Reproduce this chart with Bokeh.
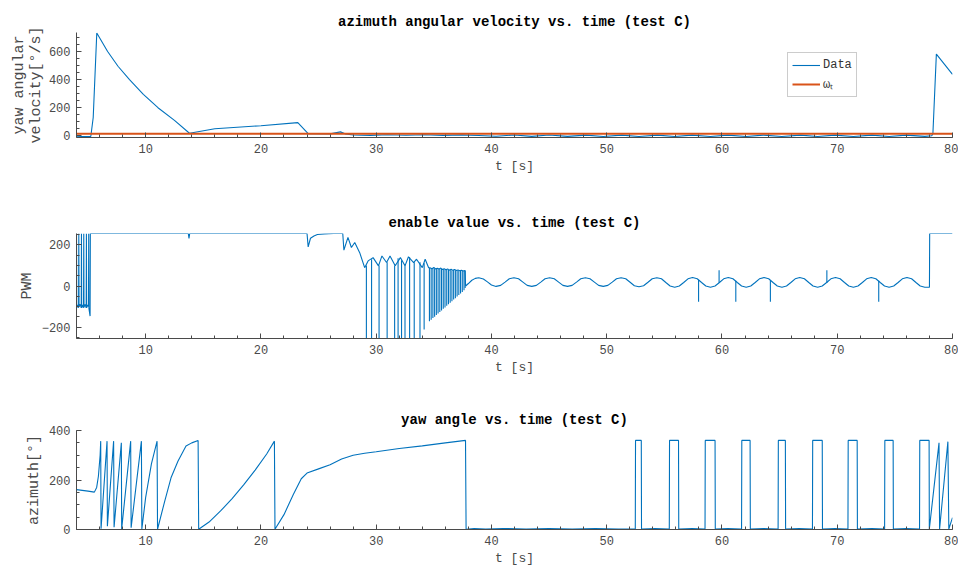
from bokeh.plotting import figure
from bokeh.layouts import column
from bokeh.models import Range1d, SingleIntervalTicker, Legend, LegendItem
from bokeh.embed import file_html
from bokeh.resources import INLINE

# ---------------- data ----------------
# azimuth angular velocity (deg/s)
om_t = [4.0, 4.5, 5.0, 5.24, 5.45, 5.76, 6.7, 7.6, 8.6, 9.8,
        11.07, 12.5, 13.8, 16.0, 20.0, 23.2, 24.1, 26.0, 26.9, 27.3,
        28.0, 29.5, 31.0, 32.6, 34.2, 35.8, 37.4, 38.9, 40.4, 42.0,
        43.5, 45.0, 46.6, 48.2, 49.7, 51.3, 52.8, 54.4, 55.9, 57.4,
        59.0, 60.5, 62.1, 63.6, 65.2, 66.8, 68.3, 69.8, 71.4, 73.0,
        74.5, 76.0, 77.6, 78.2, 78.3, 78.6, 80.0]
om_v = [-3, -5, -6, -5, 130, 731, 600, 495, 400, 295,
        200, 110, 18, 50, 72, 94, 15, 14, 28, 14,
        6, 3, 8, 4, 8, 3, 7, 2, -3, 6,
        -4, 6, -4, 5, -5, 5, -5, 5, -5, 5,
        -5, 5, -5, 5, -5, 5, -5, 5, -5, 5,
        -5, 5, -4, 0, 15, 581, 437]
omega_t_value = 15
omega_t_span = [4.0, 80.0]

# PWM enable value: start-up chatter and saturation
pwm_a_t = [4.0, 4.02, 4.1, 4.18, 4.2, 4.22, 4.32, 4.41, 4.43, 4.45, 4.53, 4.61,
           4.63, 4.65, 4.75, 4.84, 4.86, 4.88, 4.96, 5.04, 5.06, 5.08, 5.18, 5.2,
           13.7, 13.76, 13.82,
           24.0, 24.1, 24.3, 24.6, 24.9, 25.5, 26.3, 27.1,
           27.2, 27.55, 27.85, 28.14, 28.57, 29.0, 29.3, 29.73, 30.2, 30.5, 30.9,
           31.2, 31.65, 32.1, 32.5, 32.8, 33.25, 33.5, 34.0, 34.25, 34.55]
pwm_a_v = [255, -106, -92, -106, 255, -100, -89, -106, 255, -106, -92, -106,
           255, -104, -89, -106, 255, -106, -92, -100, 255, -110, -146, 255,
           255, 231, 255,
           255, 190, 232, 243, 250, 253, 255, 255,
           174, 236, 187, 211, 162, 89, 122, 138, 98, 146, 114,
           146, 98, 138, 98, 142, 114, 130, 89, 130, 89]
# dense chatter envelope
pwm_b_t = [34.7, 34.85, 35.0, 35.15, 35.3, 35.45, 35.6, 35.75, 35.9, 36.05, 36.2,
           36.35, 36.5, 36.65, 36.8, 36.95, 37.1, 37.25, 37.4, 37.55, 37.7]
pwm_b_v = [88, 84, 90, 83, 86, 82, 87, 80, 84, 79, 83,
           77, 81, 76, 80, 75, 78, 74, 77, 73, 75]
# oscillation phase
pwm_c_t = [37.76, 38.0, 38.3, 38.6, 38.9, 39.3, 39.65, 40.0, 40.4,
           40.8, 41.18, 41.55, 41.95, 42.35, 42.73, 43.1, 43.5,
           43.9, 44.28, 44.65, 45.05, 45.45, 45.83, 46.2, 46.6,
           47.0, 47.38, 47.75, 48.15, 48.55, 48.93, 49.3, 49.7,
           50.1, 50.48, 50.85, 51.25, 51.65, 52.03, 52.4, 52.8,
           53.2, 53.58, 53.95, 54.35, 54.75, 55.13, 55.5, 55.9,
           56.3, 56.68, 57.05, 57.45, 57.85, 58.23, 58.6, 59.0,
           59.4, 59.78, 60.15, 60.55, 60.95, 61.33, 61.7, 62.1,
           62.5, 62.88, 63.25, 63.65, 64.05, 64.43, 64.8, 65.2,
           65.6, 65.98, 66.35, 66.75, 67.15, 67.53, 67.9, 68.3,
           68.7, 69.08, 69.45, 69.85, 70.25, 70.63, 71.0, 71.4,
           71.8, 72.18, 72.55, 72.95, 73.35, 73.73, 74.1, 74.5,
           74.9, 75.28, 75.65, 76.05, 76.45, 76.83, 77.2, 77.6,
           78.0, 78.02, 80.0]
pwm_c_v = [0, 12, 28, 37, 40, 34, 20, 5, -2,
           3, 19, 35, 40, 35, 19, 3, -2,
           3, 19, 35, 40, 35, 19, 3, -2,
           3, 19, 35, 40, 35, 19, 3, -2,
           3, 19, 35, 40, 35, 18, 1, -4,
           1, 18, 35, 40, 35, 17, 0, -6,
           0, 17, 35, 41, 35, 17, 0, -6,
           0, 17, 35, 41, 35, 17, 0, -6,
           0, 17, 35, 41, 35, 17, 0, -6,
           0, 17, 35, 41, 35, 17, 0, -6,
           0, 17, 35, 41, 35, 17, 0, -6,
           0, 17, 35, 41, 35, 17, 0, -6,
           0, 17, 35, 41, 35, 17, 0, -6,
           -6, 255, 255]
# switching spikes
spike_t = [29.15, 29.6, 30.25, 30.95, 31.6, 31.9, 32.2, 32.5, 32.9, 33.3, 33.8, 34.16,
           34.62, 34.77, 34.92, 35.07, 35.22, 35.37, 35.52, 35.67, 35.82, 35.97, 36.12,
           36.27, 36.42, 36.57, 36.72, 36.87, 37.02, 37.17, 37.32, 37.47, 37.62, 37.72,
           57.97, 59.75, 61.2, 64.2, 69.1, 73.6]
spike_top = [100, 130, 100, 115, 100, 135, 125, 100, 140, 115, 115, 110,
             88, 86, 88, 85, 85, 84, 85, 82, 82, 80, 80,
             78, 79, 77, 78, 76, 77, 75, 75, 74, 74, 75,
             30, 16, 25, 28, 15, 25]
spike_bot = [-255, -255, -255, -255, -255, -255, -255, -255, -255, -255, -255, -211,
             -171, -164, -156, -149, -141, -134, -126, -119, -111, -104, -96,
             -89, -81, -74, -66, -59, -51, -44, -36, -29, -21, -10,
             -76, 76, -76, -76, 76, -76]

# yaw angle (deg)
az_t = [4.0, 5.0, 5.55, 5.75, 5.9, 6.05, 6.1, 6.13,
        6.65, 6.68, 7.22, 7.26, 7.89, 7.92, 8.70, 8.74, 9.63, 9.67, 10.0, 10.5, 10.99, 11.03,
        11.65, 12.2, 12.8, 13.5, 14.0, 14.55, 14.6,
        15.5, 16.5, 17.5, 18.5, 19.5, 20.5, 21.17, 21.22,
        22.0, 22.8, 23.5, 24.0, 25.0, 26.0, 27.0, 28.0, 29.0, 30.0, 32.0, 34.0, 36.0, 37.75, 37.8,
        38.5, 39.5, 41.0, 43.0, 45.0, 47.0, 49.0, 51.0,
        52.48, 52.5, 53.0, 53.02, 54.2,
        55.43, 55.45, 56.23, 56.25, 57.4,
        58.53, 58.55, 59.4, 59.42, 60.5,
        61.70, 61.72, 62.44, 62.46, 63.6,
        64.87, 64.89, 65.5, 65.52, 66.7,
        67.85, 67.87, 68.7, 68.72, 69.8,
        70.93, 70.95, 71.73, 71.75, 73.0,
        74.11, 74.13, 74.85, 74.87, 76.0,
        77.14, 77.16, 77.97, 77.99, 78.83, 78.88, 79.6, 79.68, 80.0]
az_v = [161, 155, 151, 170, 215, 300, 357, 3,
        357, 13, 357, 9, 350, 2, 357, 7, 357, 2, 130, 265, 357, 1,
        114, 209, 276, 337, 350, 360, 1,
        30, 75, 125, 180, 240, 305, 357, 1,
        60, 140, 205, 228, 245, 262, 285, 300, 308, 314, 327, 338, 350, 360, 1,
        4, 2, 4, 2, 4, 2, 4, 2,
        2, 360, 360, 2, 4,
        2, 360, 360, 2, 4,
        2, 360, 360, 2, 4,
        2, 360, 360, 2, 4,
        2, 360, 360, 2, 4,
        2, 360, 360, 2, 4,
        2, 360, 360, 2, 4,
        2, 360, 360, 2, 4,
        2, 360, 360, 2, 350, 2, 355, 2, 48]

# ---------------- style ----------------
MONO = "Liberation Mono"
BLUE = "#0072BD"
RED = "#D95319"
AX = "#4a4a4a"


def make_fig(title, h, top, bottom, y0, y1, yint, ylabel, ylsize="15px"):
    p = figure(width=958, height=h, output_backend="svg", toolbar_location=None,
               x_range=Range1d(4, 80), y_range=Range1d(y0, y1),
               min_border_left=76, min_border_right=6,
               min_border_top=top, min_border_bottom=bottom)
    p.title.text = title
    p.title.align = "center"
    p.title.text_font = MONO
    p.title.text_font_size = "14px"
    p.title.text_font_style = "bold"
    p.title.text_color = "black"
    p.title.standoff = 5
    p.outline_line_color = None
    p.grid.visible = False
    p.xaxis.ticker = SingleIntervalTicker(interval=10, num_minor_ticks=5)
    p.yaxis.ticker = SingleIntervalTicker(interval=yint, num_minor_ticks=4)
    for ax in p.axis:
        ax.axis_line_color = AX
        ax.major_tick_line_color = AX
        ax.minor_tick_line_color = AX
        ax.major_tick_in = 5
        ax.major_tick_out = 0
        ax.minor_tick_in = 3
        ax.minor_tick_out = 0
        ax.major_label_text_font = MONO
        ax.major_label_text_font_size = "12px"
        ax.major_label_text_color = AX
        ax.major_label_standoff = 6
        ax.axis_label_text_font = MONO
        ax.axis_label_text_font_style = "normal"
        ax.axis_label_text_color = AX
        ax.axis_label_standoff = 3
    p.xaxis.axis_label = "t [s]"
    p.xaxis.axis_label_text_font_size = "13px"
    p.yaxis.axis_label = ylabel
    p.yaxis.axis_label_text_font_size = ylsize
    p.yaxis.axis_label_text_align = "center"
    return p


# ---- plot 1 ----
p1 = make_fig("azimuth angular velocity vs. time (test C)", 201, 32, 64,
              -12, 735, 200, "yaw angular\nvelocity[°/s]")
p1.yaxis.axis_label_standoff = 1
p1.yaxis.axis_label_text_line_height = 1.0
r_data = p1.line(om_t, om_v, line_color=BLUE, line_width=1.1)
r_w = p1.line(omega_t_span, [omega_t_value, omega_t_value], line_color=RED, line_width=2)
legend = Legend(items=[LegendItem(label="Data", renderers=[r_data]),
                       LegendItem(label="ωₜ", renderers=[r_w])],
                location=(711, 40))
legend.label_text_font = MONO
legend.label_text_font_size = "12px"
legend.label_text_color = "#333333"
legend.border_line_color = "#9a9a9a"
legend.background_fill_color = "white"
legend.padding = 4
legend.spacing = 2
legend.margin = 0
legend.glyph_width = 28
legend.glyph_height = 16
legend.label_height = 16
legend.label_standoff = 3
p1.add_layout(legend)

# ---- plot 2 ----
p2 = make_fig("enable value vs. time (test C)", 196, 32, 59,
              -255, 255, 200, "PWM")
p2.line(pwm_a_t + pwm_b_t + pwm_c_t, pwm_a_v + pwm_b_v + pwm_c_v,
        line_color=BLUE, line_width=1.1)
p2.segment(x0=spike_t, y0=spike_top, x1=spike_t, y1=spike_bot,
           line_color=BLUE, line_width=1.1)

# ---- plot 3 ----
p3 = make_fig("yaw angle vs. time (test C)", 171, 33, 39,
              0, 400, 200, "azimuth[°]")
p3.line(az_t, az_v, line_color=BLUE, line_width=1.1)

layout = column(p1, p2, p3, spacing=0)
open("out.html", "w").write(file_html(layout, INLINE))
